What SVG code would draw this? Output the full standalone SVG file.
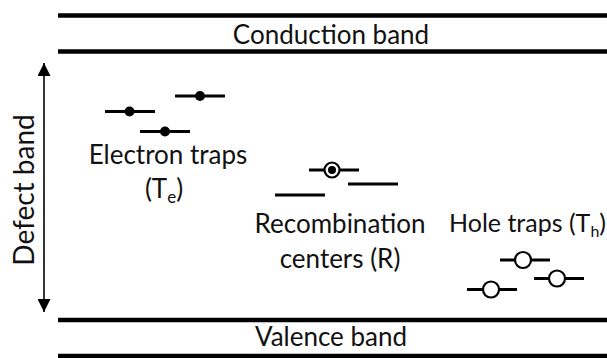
<svg xmlns="http://www.w3.org/2000/svg" width="607" height="358" viewBox="0 0 607 358">
<defs>
<style>
.band{stroke:#000;stroke-width:4.5;fill:none}
.lvl{stroke:#000;stroke-width:3;fill:none}
.ax{stroke:#000;stroke-width:1.6;fill:none}
.t{font-family:Lato,"Liberation Sans",sans-serif;font-size:26px;fill:#111}
.e{fill:#000}
.h{fill:#fff;stroke:#000;stroke-width:2.2}
</style>
<marker id="ah" viewBox="0 0 10 10" refX="10" refY="5" markerWidth="16" markerHeight="13" markerUnits="userSpaceOnUse" orient="auto">
<path d="M0,0 L10,5 L0,10 Z" fill="#000"/>
</marker>
</defs>
<rect width="607" height="358" fill="#fff"/>
<g id="conduction-band">
<line class="band" x1="58" y1="15.5" x2="607" y2="15.5"/>
<line class="band" x1="58" y1="51.5" x2="607" y2="51.5"/>
<text class="t" x="331" y="44" text-anchor="middle">Conduction band</text>
</g>
<g id="valence-band">
<line class="band" x1="58" y1="320" x2="607" y2="320"/>
<line class="band" x1="58" y1="356" x2="607" y2="356"/>
<text class="t" x="331" y="346" text-anchor="middle">Valence band</text>
</g>
<g id="connectors">
<line class="ax" x1="44" y1="190" x2="44" y2="63" marker-end="url(#ah)"/>
<line class="ax" x1="44" y1="190" x2="44" y2="312" marker-end="url(#ah)"/>
</g>
<g id="defect-band">
<text class="t" transform="translate(34,190) rotate(-90)" text-anchor="middle" style="font-size:28px">Defect band</text>
</g>
<g id="electron-traps">
<line class="lvl" x1="105" y1="111.5" x2="155" y2="111.5"/><circle class="e" cx="129.5" cy="111.5" r="5"/>
<line class="lvl" x1="175" y1="96" x2="225" y2="96"/><circle class="e" cx="200" cy="96" r="5"/>
<line class="lvl" x1="140" y1="131.5" x2="190" y2="131.5"/><circle class="e" cx="165" cy="131.5" r="5"/>
<text class="t" x="168" y="164" text-anchor="middle">Electron traps</text>
<text class="t" x="164" y="198" text-anchor="middle">(T<tspan font-size="17" dy="5">e</tspan><tspan dy="-5">)</tspan></text>
</g>
<g id="recombination-centers">
<line class="lvl" x1="309" y1="170" x2="359" y2="170"/>
<circle class="h" cx="332" cy="170" r="7.5"/><circle class="e" cx="332" cy="170" r="4"/>
<line class="lvl" x1="348" y1="184" x2="398" y2="184"/>
<line class="lvl" x1="275" y1="195" x2="325" y2="195"/>
<text class="t" x="340" y="233" text-anchor="middle">Recombination</text>
<text class="t" x="340" y="268" text-anchor="middle">centers (R)</text>
</g>
<g id="hole-traps">
<line class="lvl" x1="500" y1="260" x2="550" y2="260"/><circle class="h" cx="523" cy="260" r="8"/>
<line class="lvl" x1="534" y1="278.5" x2="584" y2="278.5"/><circle class="h" cx="557" cy="278.5" r="8"/>
<line class="lvl" x1="467" y1="289.5" x2="517" y2="289.5"/><circle class="h" cx="491" cy="289.5" r="8"/>
<text class="t" x="606" y="232" text-anchor="end" style="font-size:25px">Hole traps (T<tspan font-size="16" dy="5">h</tspan><tspan dy="-5">)</tspan></text>
</g>
</svg>
